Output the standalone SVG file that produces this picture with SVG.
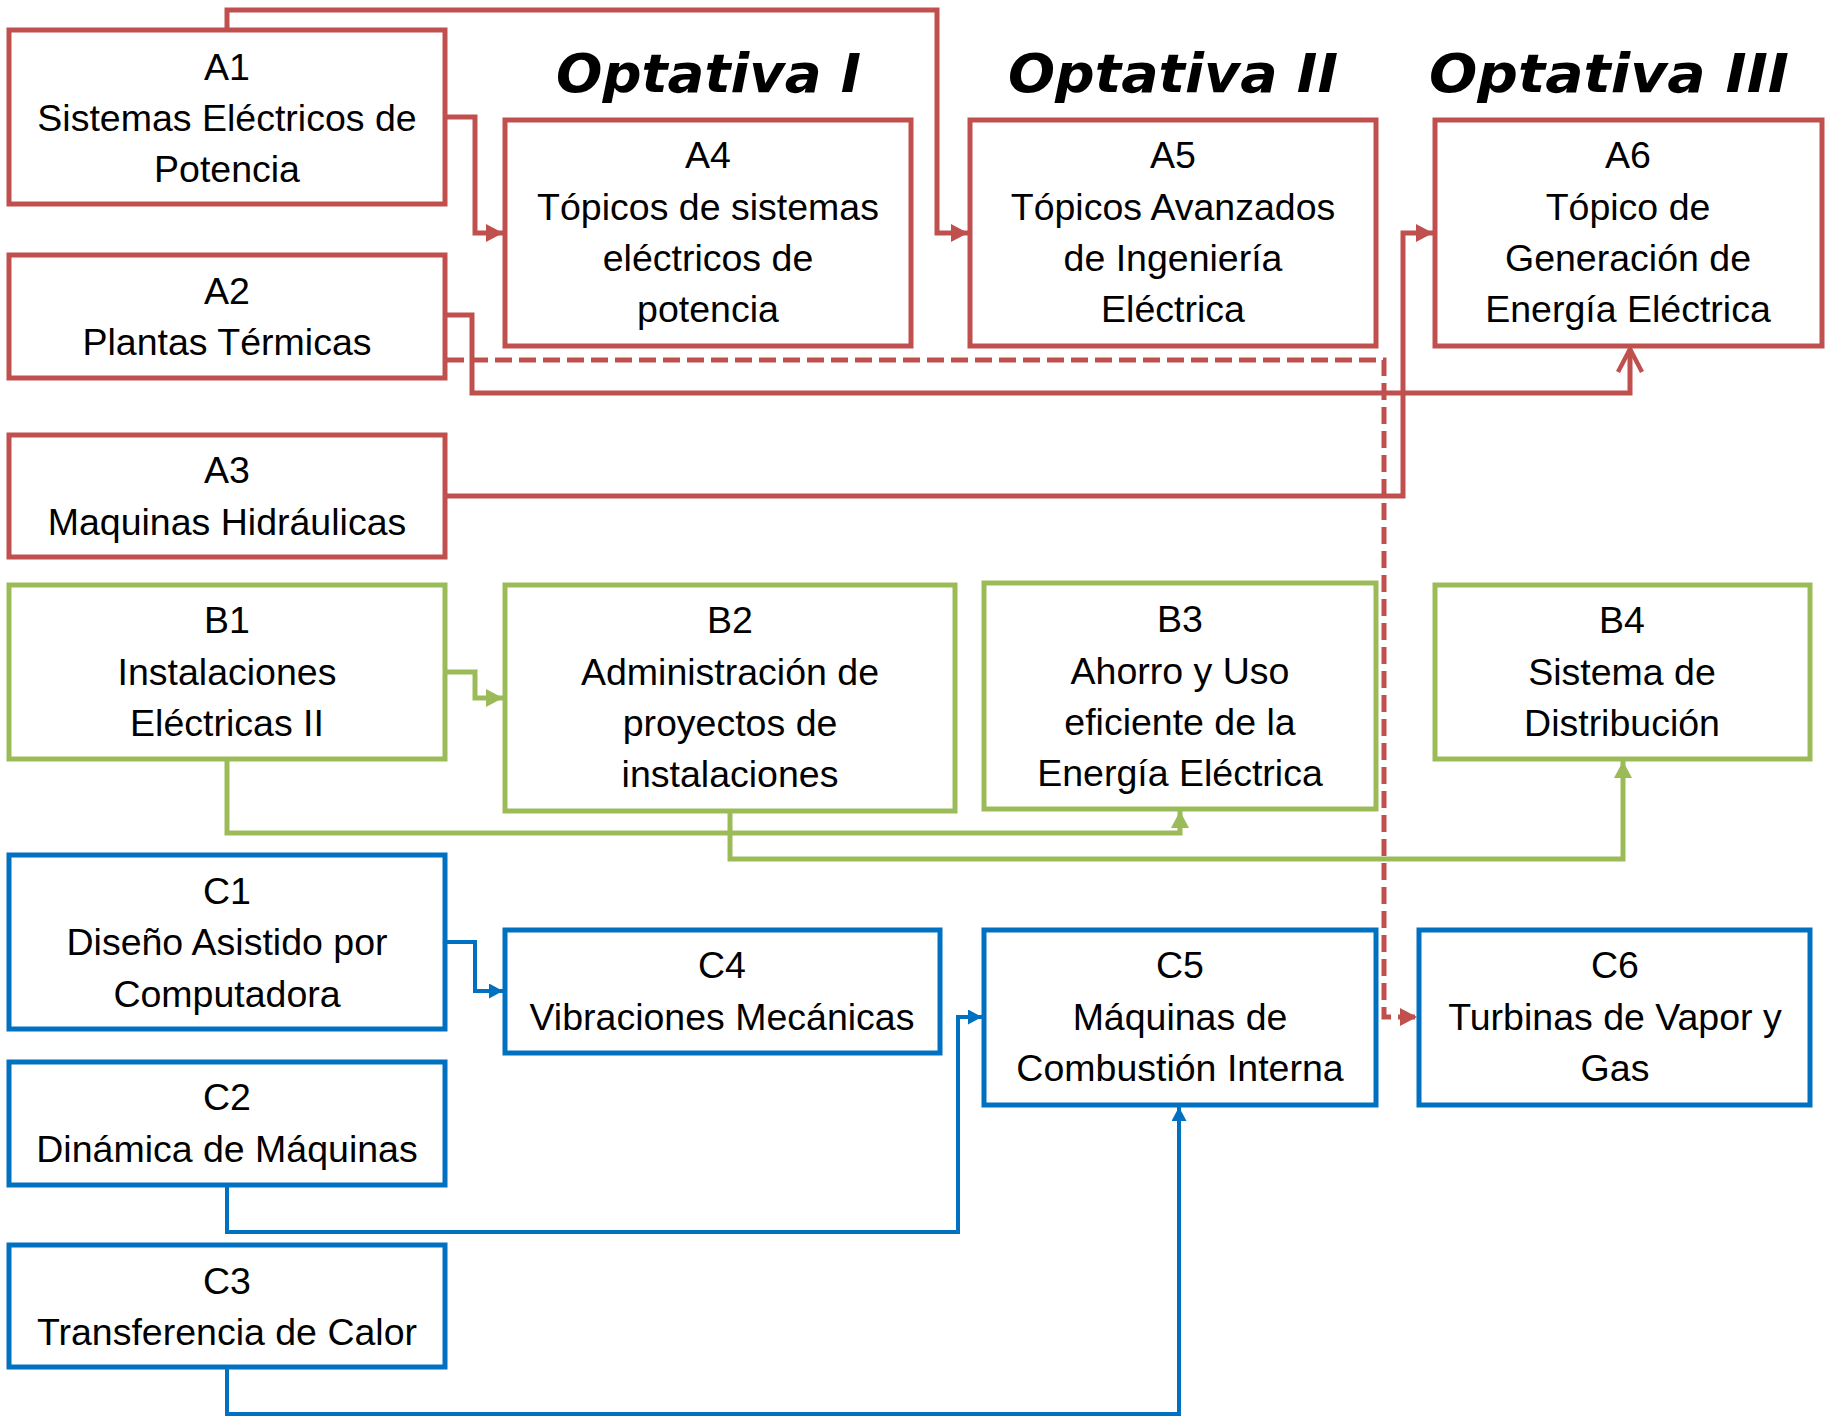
<svg xmlns="http://www.w3.org/2000/svg" width="1825" height="1417" viewBox="0 0 1825 1417">
<style>
.box{fill:#fff;stroke-width:5}
.ra{stroke:#C0504D}.gb{stroke:#9BBB59}.bc{stroke:#0070C0}
.t{font-family:"Liberation Sans",Arial,sans-serif;font-size:37.5px;fill:#000;text-anchor:middle}
.h{font-family:"DejaVu Sans",Verdana,sans-serif;font-size:54px;font-weight:bold;font-style:italic;fill:#000}
.c{fill:none;stroke-width:5;stroke-linejoin:miter}
.cr{stroke:#C0504D}.cg{stroke:#9BBB59}.cb{stroke:#0070C0;stroke-width:4}
.dash{stroke-dasharray:17 7}
</style>
<defs>
<marker id="mr" markerUnits="userSpaceOnUse" markerWidth="17" markerHeight="18" refX="17" refY="9" orient="auto"><path d="M0,0 L17,9 L0,18 z" fill="#C0504D"/></marker>
<marker id="mro" markerUnits="userSpaceOnUse" markerWidth="30" markerHeight="30" refX="24" refY="15" orient="auto" overflow="visible"><path d="M1,3 L24,15 L1,27" fill="none" stroke="#C0504D" stroke-width="4.5"/></marker>
<marker id="mg" markerUnits="userSpaceOnUse" markerWidth="17" markerHeight="18" refX="17" refY="9" orient="auto"><path d="M0,0 L17,9 L0,18 z" fill="#9BBB59"/></marker>
<marker id="mb" markerUnits="userSpaceOnUse" markerWidth="14" markerHeight="15" refX="14" refY="7.5" orient="auto"><path d="M0,0 L14,7.5 L0,15 z" fill="#0070C0"/></marker>
</defs>
<g id="titles">
<text class="h" x="556" y="92" textLength="305" lengthAdjust="spacingAndGlyphs">Optativa I</text>
<text class="h" x="1008" y="92" textLength="330" lengthAdjust="spacingAndGlyphs">Optativa II</text>
<text class="h" x="1429" y="92" textLength="360" lengthAdjust="spacingAndGlyphs">Optativa III</text>
</g>
<g id="connectors">
<path class="c cr" d="M445,117 H475 V233 H503" marker-end="url(#mr)"/>
<path class="c cr" d="M227,30 V10 H937 V233 H968" marker-end="url(#mr)"/>
<path class="c cr" d="M445,315 H472 V393 H1630 V349" marker-end="url(#mro)"/>
<path class="c cr" d="M445,496 H1403 V233 H1433" marker-end="url(#mr)"/>
<path class="c cr dash" d="M447,360 H1384 V1017 H1417" marker-end="url(#mr)"/>
<path class="c cg" d="M445,672 H475 V698 H503" marker-end="url(#mg)"/>
<path class="c cg" d="M227,759 V833 H1180 V811" marker-end="url(#mg)"/>
<path class="c cg" d="M730,811 V859 H1623 V761" marker-end="url(#mg)"/>
<path class="c cb" d="M445,942 H475 V991 H503" marker-end="url(#mb)"/>
<path class="c cb" d="M227,1185 V1232 H958 V1017 H982" marker-end="url(#mb)"/>
<path class="c cb" d="M227,1367 V1414 H1179 V1107" marker-end="url(#mb)"/>
</g>
<g id="A1"><rect class="box ra" x="9" y="30" width="436" height="174"/><text class="t" x="227" y="80">A1</text><text class="t" x="227" y="131">Sistemas Eléctricos de</text><text class="t" x="227" y="182">Potencia</text></g>
<g id="A2"><rect class="box ra" x="9" y="255" width="436" height="123"/><text class="t" x="227" y="304">A2</text><text class="t" x="227" y="355">Plantas Térmicas</text></g>
<g id="A3"><rect class="box ra" x="9" y="435" width="436" height="122"/><text class="t" x="227" y="483">A3</text><text class="t" x="227" y="535">Maquinas Hidráulicas</text></g>
<g id="A4"><rect class="box ra" x="505" y="120" width="406" height="226"/><text class="t" x="708" y="168">A4</text><text class="t" x="708" y="220">Tópicos de sistemas</text><text class="t" x="708" y="271">eléctricos de</text><text class="t" x="708" y="322">potencia</text></g>
<g id="A5"><rect class="box ra" x="970" y="120" width="406" height="226"/><text class="t" x="1173" y="168">A5</text><text class="t" x="1173" y="220">Tópicos Avanzados</text><text class="t" x="1173" y="271">de Ingeniería</text><text class="t" x="1173" y="322">Eléctrica</text></g>
<g id="A6"><rect class="box ra" x="1435" y="120" width="387" height="226"/><text class="t" x="1628" y="168">A6</text><text class="t" x="1628" y="220">Tópico de</text><text class="t" x="1628" y="271">Generación de</text><text class="t" x="1628" y="322">Energía Eléctrica</text></g>
<g id="B1"><rect class="box gb" x="9" y="585" width="436" height="174"/><text class="t" x="227" y="633">B1</text><text class="t" x="227" y="685">Instalaciones</text><text class="t" x="227" y="736">Eléctricas II</text></g>
<g id="B2"><rect class="box gb" x="505" y="585" width="450" height="226"/><text class="t" x="730" y="633">B2</text><text class="t" x="730" y="685">Administración de</text><text class="t" x="730" y="736">proyectos de</text><text class="t" x="730" y="787">instalaciones</text></g>
<g id="B3"><rect class="box gb" x="984" y="583" width="392" height="226"/><text class="t" x="1180" y="632">B3</text><text class="t" x="1180" y="684">Ahorro y Uso</text><text class="t" x="1180" y="735">eficiente de la</text><text class="t" x="1180" y="786">Energía Eléctrica</text></g>
<g id="B4"><rect class="box gb" x="1435" y="585" width="375" height="174"/><text class="t" x="1622" y="633">B4</text><text class="t" x="1622" y="685">Sistema de</text><text class="t" x="1622" y="736">Distribución</text></g>
<g id="C1"><rect class="box bc" x="9" y="855" width="436" height="174"/><text class="t" x="227" y="904">C1</text><text class="t" x="227" y="955">Diseño Asistido por</text><text class="t" x="227" y="1007">Computadora</text></g>
<g id="C2"><rect class="box bc" x="9" y="1062" width="436" height="123"/><text class="t" x="227" y="1110">C2</text><text class="t" x="227" y="1162">Dinámica de Máquinas</text></g>
<g id="C3"><rect class="box bc" x="9" y="1245" width="436" height="122"/><text class="t" x="227" y="1294">C3</text><text class="t" x="227" y="1345">Transferencia de Calor</text></g>
<g id="C4"><rect class="box bc" x="505" y="930" width="435" height="123"/><text class="t" x="722" y="978">C4</text><text class="t" x="722" y="1030">Vibraciones Mecánicas</text></g>
<g id="C5"><rect class="box bc" x="984" y="930" width="392" height="175"/><text class="t" x="1180" y="978">C5</text><text class="t" x="1180" y="1030">Máquinas de</text><text class="t" x="1180" y="1081">Combustión Interna</text></g>
<g id="C6"><rect class="box bc" x="1419" y="930" width="391" height="175"/><text class="t" x="1615" y="978">C6</text><text class="t" x="1615" y="1030">Turbinas de Vapor y</text><text class="t" x="1615" y="1081">Gas</text></g>
</svg>
